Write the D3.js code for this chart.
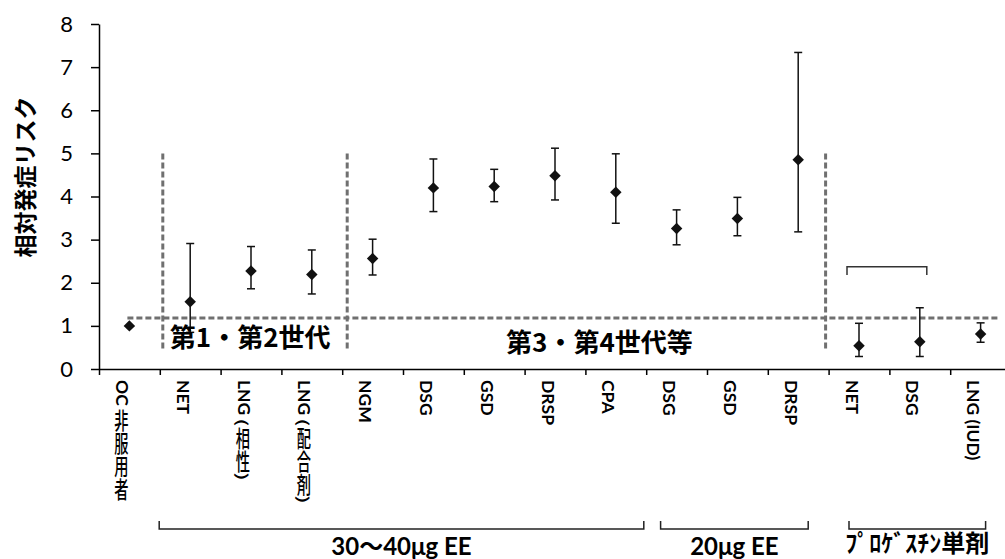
<!DOCTYPE html>
<html lang="ja">
<head>
<meta charset="UTF-8">
<title>相対発症リスク</title>
<script src="https://d3js.org/d3.v7.min.js"></script>
<style>
    body { margin: 0; background: #fff; }
    svg { display: block; }
</style>
</head>
<body>
<script>
    // categories: latin part + japanese part of each x label
    var labelLatin = ["OC", "NET", "LNG", "LNG", "NGM", "DSG", "GSD", "DRSP", "CPA", "DSG", "GSD", "DRSP", "NET", "DSG", "LNG (IUD)"];
    var labelJa = ["非服用者", "", "(相性)", "(配合剤)", "", "", "", "", "", "", "", "", "", "", ""];

    // relative risk and 95% CI
    var riskValues = [1.0, 1.56, 2.27, 2.19, 2.56, 4.20, 4.23, 4.48, 4.10, 3.26, 3.49, 4.85, 0.54, 0.63, 0.81];
    var ciLower = [null, 0.85, 1.86, 1.74, 2.18, 3.65, 3.88, 3.92, 3.38, 2.88, 3.09, 3.18, 0.29, 0.29, 0.62];
    var ciUpper = [null, 2.91, 2.84, 2.76, 3.01, 4.87, 4.63, 5.12, 4.99, 3.69, 3.98, 7.34, 1.06, 1.42, 1.07];

    var yTicks = [0, 1, 2, 3, 4, 5, 6, 7, 8];
    var refLevel = 1.18;
    var dividerAfter = [0, 3, 11];   // vertical dashed lines after these categories
    var dividerRange = [0.44, 5.0];

    var groupNames = ["30〜40μg EE", "20μg EE", "ﾌﾟﾛｹﾞｽﾁﾝ単剤"];
    var groupFirst = [1, 9, 12];
    var groupLast = [8, 11, 14];

    var genNames = ["第1・第2世代", "第3・第4世代等"];

    var width = 1005, height = 559;
    var plotLeft = 99, plotBottom = 369, plotTop = 24;

    var svg = d3.select("body").append("svg")
        .attr("width", width)
        .attr("height", height);

    var x = d3.scaleBand()
        .domain(d3.range(labelLatin.length))
        .range([plotLeft, 1011]);
    var xEdge = d3.scaleLinear()
        .domain([0, labelLatin.length])
        .range([plotLeft, 1011]);
    var y = d3.scaleLinear()
        .domain([0, 8])
        .range([plotBottom, plotTop]);
    function cx(i) { return x(i) + x.bandwidth() / 2; }

    var ink = "#111";
    var dashCol = "#707070";

    // reference dashed line
    svg.append("line")
        .attr("x1", cx(0) - 2).attr("x2", 1000)
        .attr("y1", y(refLevel)).attr("y2", y(refLevel))
        .attr("stroke", dashCol).attr("stroke-width", 3)
        .attr("stroke-dasharray", "6,3");

    // vertical dividers
    var nudge = [3, 5, -3];
    svg.selectAll(".divider")
        .data(dividerAfter)
        .enter().append("line")
        .attr("class", "divider")
        .attr("x1", function (d, i) { return xEdge(d + 1) + nudge[i]; })
        .attr("x2", function (d, i) { return xEdge(d + 1) + nudge[i]; })
        .attr("y1", y(dividerRange[1]))
        .attr("y2", y(dividerRange[0]))
        .attr("stroke", dashCol).attr("stroke-width", 3)
        .attr("stroke-dasharray", "6,3");

    // y axis
    var yAxis = svg.append("g")
        .attr("transform", "translate(" + plotLeft + ",0)")
        .call(d3.axisLeft(y).tickValues(yTicks).tickSize(8).tickSizeOuter(0).tickPadding(18));
    yAxis.selectAll("text")
        .style("font-family", "Lato, 'Open Sans', sans-serif")
        .style("font-size", "22px")
        .attr("fill", "#000");

    // x axis, ticks on category edges
    svg.append("g")
        .attr("transform", "translate(0," + plotBottom + ")")
        .call(d3.axisBottom(xEdge).ticks(labelLatin.length).tickSize(6).tickSizeOuter(0).tickFormat(""));

    svg.selectAll(".domain, .tick line")
        .attr("stroke", "#000")
        .attr("stroke-width", 1.5);

    // y title
    svg.append("text")
        .attr("transform", "translate(24,177) rotate(-90)")
        .attr("text-anchor", "middle")
        .attr("dominant-baseline", "central")
        .style("font-family", "'Noto Sans CJK JP', sans-serif")
        .style("font-weight", "bold")
        .style("font-size", "23px")
        .text("相対発症リスク");

    // x labels: latin rotated, japanese written vertically
    var labelTop = 380;
    labelLatin.forEach(function (lab, i) {
        var lx = cx(i) - 7;
        var t = svg.append("text")
            .attr("transform", "translate(" + lx + "," + labelTop + ") rotate(90)")
            .attr("dominant-baseline", "central")
            .style("font-family", "Lato, 'Open Sans', sans-serif")
            .style("font-weight", "bold")
            .style("font-size", "17.5px")
            .text(lab);
        var len = t.node().getComputedTextLength();
        if (labelJa[i]) {
            svg.append("text")
                .attr("transform", "translate(" + (lx - 1) + "," + (labelTop + len + 3) + ") scale(0.62,1)")
                .style("writing-mode", "vertical-rl")
                .style("font-family", "'Noto Sans CJK JP', sans-serif")
                .style("font-weight", 500)
                .style("font-size", "23px")
                .text(labelJa[i]);
        }
    });

    // error bars
    var bars = d3.range(riskValues.length).filter(function (i) { return ciLower[i] != null; });
    var eb = svg.selectAll(".eb")
        .data(bars)
        .enter().append("g")
        .attr("class", "eb")
        .attr("stroke", ink)
        .attr("stroke-width", 1.5);
    eb.append("line")
        .attr("x1", cx).attr("x2", cx)
        .attr("y1", function (i) { return y(ciLower[i]); })
        .attr("y2", function (i) { return y(ciUpper[i]); });
    eb.append("line")
        .attr("x1", function (i) { return cx(i) - 4; })
        .attr("x2", function (i) { return cx(i) + 4; })
        .attr("y1", function (i) { return y(ciUpper[i]); })
        .attr("y2", function (i) { return y(ciUpper[i]); });
    eb.append("line")
        .attr("x1", function (i) { return cx(i) - 4; })
        .attr("x2", function (i) { return cx(i) + 4; })
        .attr("y1", function (i) { return y(ciLower[i]); })
        .attr("y2", function (i) { return y(ciLower[i]); });

    // diamonds
    svg.selectAll(".pt")
        .data(riskValues)
        .enter().append("path")
        .attr("class", "pt")
        .attr("d", d3.symbol(d3.symbolSquare, 66))
        .attr("transform", function (d, i) { return "translate(" + cx(i) + "," + y(d) + ") rotate(45)"; })
        .attr("fill", ink);

    // generation labels
    svg.append("text")
        .attr("x", xEdge(1) + 10)
        .attr("y", y(0.5))
        .style("font-family", "'Noto Sans CJK JP', sans-serif")
        .style("font-weight", "bold")
        .style("font-size", "26px")
        .text(genNames[0]);
    svg.append("text")
        .attr("x", xEdge(8) + 14)
        .attr("y", y(0.4))
        .attr("text-anchor", "middle")
        .style("font-family", "'Noto Sans CJK JP', sans-serif")
        .style("font-weight", "bold")
        .style("font-size", "26px")
        .text(genNames[1]);

    // small bracket over progestin-only NET / DSG
    var bTop = y(2.37), bEnd = y(2.18);
    svg.append("path")
        .attr("d", "M" + (cx(12) - 12) + "," + bEnd + "V" + bTop + "H" + (cx(13) + 7) + "V" + bEnd)
        .attr("fill", "none")
        .attr("stroke", "#333")
        .attr("stroke-width", 1.5);

    // group brackets under the labels
    var insetL = [31, 16, 10], insetR = [28, 10, 5];
    var gy = 529;
    groupNames.forEach(function (name, k) {
        var x0 = cx(groupFirst[k]) - insetL[k];
        var x1 = cx(groupLast[k]) + insetR[k];
        svg.append("path")
            .attr("d", "M" + x0 + "," + (gy - 8) + "V" + gy + "H" + x1 + "V" + (gy - 8))
            .attr("fill", "none")
            .attr("stroke", "#222")
            .attr("stroke-width", 1.5);
        svg.append("text")
            .attr("x", (x0 + x1) / 2)
            .attr("y", k == 2 ? 552 : 555)
            .attr("text-anchor", "middle")
            .style("font-family", k == 2 ? "'Noto Sans CJK JP', sans-serif" : "Lato, 'Noto Sans CJK JP', sans-serif")
            .style("font-weight", "bold")
            .style("font-size", k == 2 ? "24px" : "24px")
            .text(name);
    });
</script>
</body>
</html>
